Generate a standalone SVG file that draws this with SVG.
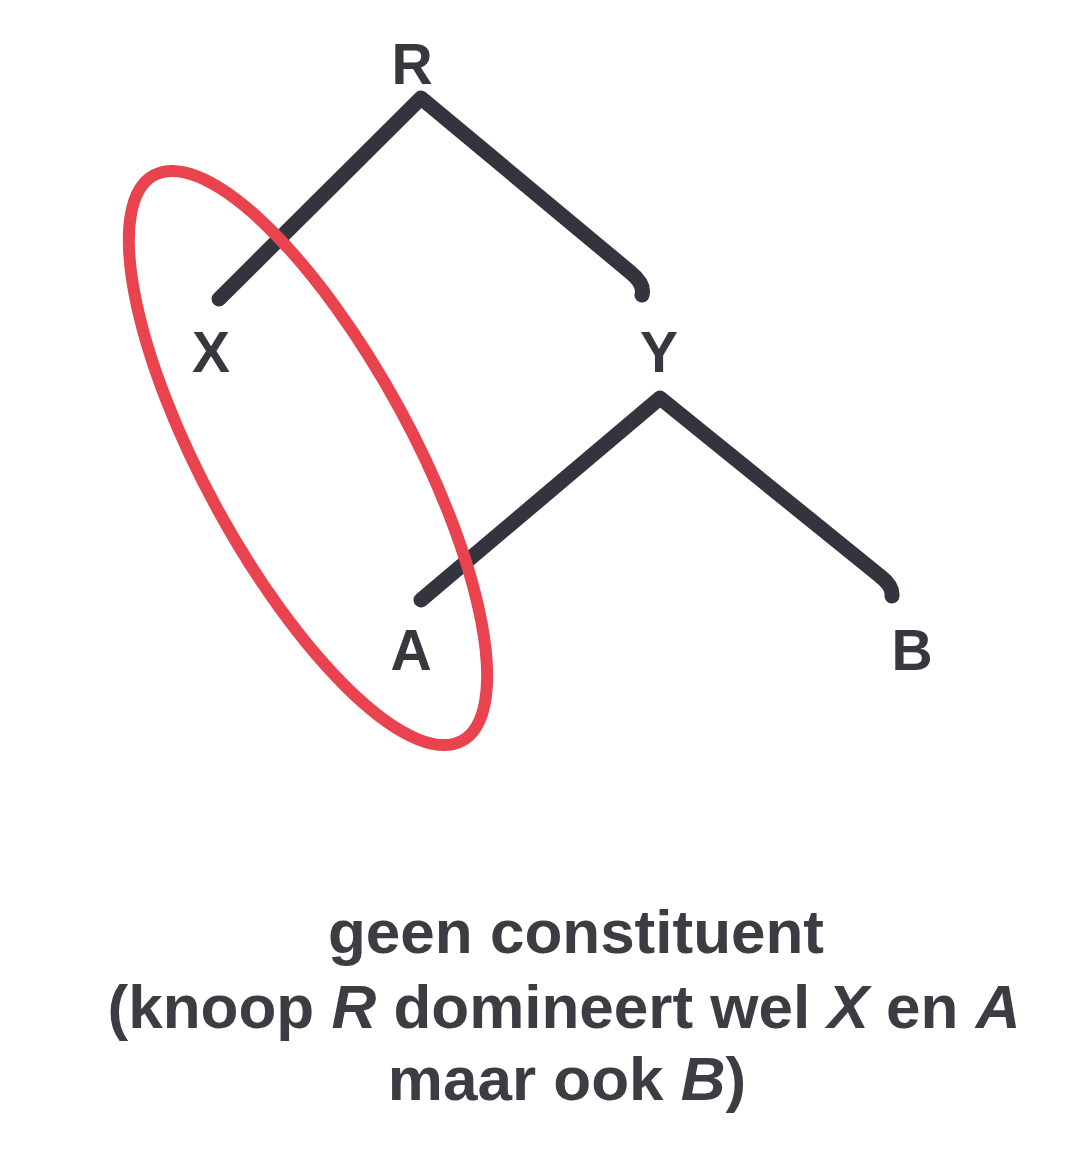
<svg xmlns="http://www.w3.org/2000/svg" width="1088" height="1152" viewBox="0 0 1088 1152">
<style>
.lbl{font-family:"Liberation Sans",Arial,sans-serif;font-weight:bold;font-size:57px;fill:#37373d;text-anchor:middle}
.cap{font-family:"Liberation Sans",Arial,sans-serif;font-weight:bold;font-size:62px;fill:#3c3c42;text-anchor:middle}
.it{font-style:italic}
.edge{fill:none;stroke:#34343f;stroke-width:15;stroke-linecap:round;stroke-linejoin:round}
.ring{fill:none;stroke:#e8434f;stroke-width:12}
</style>
<rect width="1088" height="1152" fill="#ffffff"/>
<g id="connectors">
<path class="edge" d="M219,299 L421,98 L630,272 Q645,284 642,295"/>
<path class="edge" d="M421,600 L660,398 L880,576 Q893,586 892,596"/>
</g>
<g id="node-R"><text class="lbl" x="412" y="84">R</text></g>
<g id="node-X"><text class="lbl" x="211" y="372">X</text></g>
<g id="node-Y"><text class="lbl" x="659" y="372">Y</text></g>
<g id="node-A"><text class="lbl" x="411" y="670">A</text></g>
<g id="node-B"><text class="lbl" x="912" y="670">B</text></g>
<g id="ellipse">
<ellipse class="ring" cx="308" cy="458" rx="322" ry="104" transform="rotate(61.4 308 458)"/>
</g>
<g id="caption">
<text class="cap" x="576" y="953">geen constituent</text>
<text class="cap" x="564" y="1028">(knoop <tspan class="it">R</tspan> domineert wel <tspan class="it">X</tspan> en <tspan class="it">A</tspan></text>
<text class="cap" x="567" y="1100">maar ook <tspan class="it">B</tspan>)</text>
</g>
</svg>
